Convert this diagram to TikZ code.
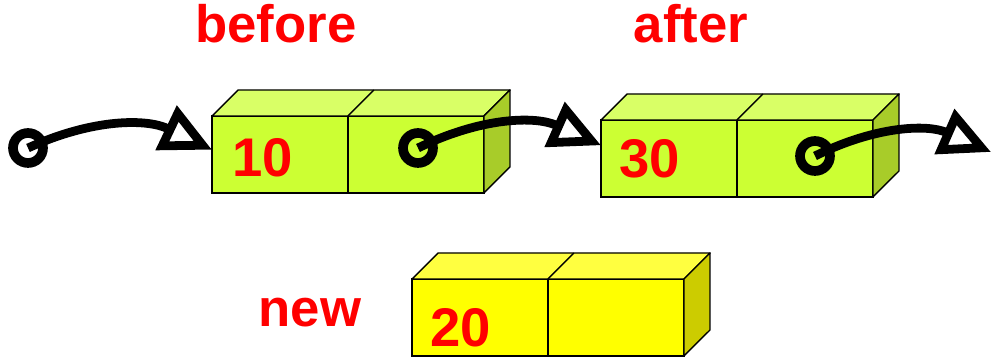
\documentclass[tikz,border=0pt]{standalone}
\usepackage{fontspec}
\setmainfont{Liberation Sans}
\usetikzlibrary{arrows.meta}
\definecolor{cellgrn}{HTML}{CCFF33}
\definecolor{cellgrntop}{HTML}{D9FF66}
\definecolor{cellgrnside}{HTML}{A8CC29}
\definecolor{cellyel}{HTML}{FFFF00}
\definecolor{cellyeltop}{HTML}{FFFF40}
\definecolor{cellyelside}{HTML}{CCCC00}
\tikzset{cell/.style={draw,line width=.8pt,minimum width=2.72cm,minimum height=1.54cm,inner sep=0pt,outer sep=0pt}, face/.style={draw,line width=.8pt,line join=round},title/.style={text=red,font=\fontsize{30}{32}\selectfont\bfseries,anchor=base}, val/.style={text=red,font=\fontsize{31}{33}\selectfont\bfseries,anchor=base},ptrdot/.style={circle,draw,line width=5.5pt,minimum size=.6cm,inner sep=0pt},ptr/.style={line width=5pt,line join=round,-{Triangle[open,length=29pt,width=27pt]}}}

\begin{document}
\begin{tikzpicture}[x=.02cm,y=.02cm]
\useasboundingbox (0,0) rectangle (994,357);
\node[cell,fill=cellgrn] (a1) at (280,202.5) {};
\node[cell,fill=cellgrn] (a2) at (416,202.5) {};
\node[cell,fill=cellgrn] (b1) at (669,198.5) {};
\node[cell,fill=cellgrn] (b2) at (805,198.5) {};
\node[cell,fill=cellyel] (n1) at (480,39.5) {};
\node[cell,fill=cellyel] (n2) at (616,39.5) {};
\foreach \l/\r/\col in {a1/a2/cellgrn,b1/b2/cellgrn,n1/n2/cellyel}{
  \filldraw[face,fill=\col top] (\l.north west) -- ++(26,26) -- ++(272,0) -- (\r.north east) -- cycle;
  \draw[face] (\l.north east) -- ++(26,26);
  \filldraw[face,fill=\col side] (\r.north east) -- ++(26,26) -- ++(0,-77) -- (\r.south east) -- cycle;
}
\node[val] (v1) at (263,180) {10};
\node[val] (v3) at (650,179) {30};
\node[val] (v2) at (461,10) {20};
\node[title] (lbefore) at (276,314) {before};
\node[title] (lafter) at (691,314) {after};
\node[title] (lnew) at (310,30) {new};
\node[ptrdot] (d0) at (28,209) {};
\node[ptrdot] (d1) at (418,209) {};
\node[ptrdot] (d2) at (815,201) {};
\coordinate (nil) at (991,205);
\draw[ptr] (d0.center) to[bend left=25] (a1.176);
\draw[ptr] (d1.center) to[bend left=25] (b1.169);
\draw[ptr] (d2.center) to[bend left=25] (nil);
\end{tikzpicture}
\end{document}
